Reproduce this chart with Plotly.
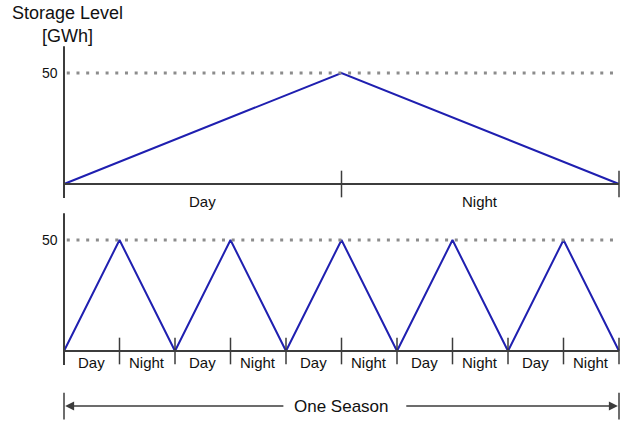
import plotly.graph_objects as go

# ---- data ----
top_x = [0, 5, 10]
top_y = [0, 50, 0]
bottom_x = [0, 1, 2, 3, 4, 5, 6, 7, 8, 9, 10]
bottom_y = [0, 50, 0, 50, 0, 50, 0, 50, 0, 50, 0]
top_labels = ["Day", "Night"]
top_bounds = [0, 5, 10]
bottom_labels = ["Day", "Night"] * 5
bottom_bounds = list(range(11))
level = 50
y_title = "Storage Level<br>[GWh]"
span_label = "One Season"

BLUE = "#1f1fb0"
AXC = "#3c3c3c"
DOT = "#8c8c8c"
FONT = "Liberation Sans, Arial, sans-serif"

fig = go.Figure()

# blue storage curves
fig.add_trace(go.Scatter(x=top_x, y=top_y, mode="lines", xaxis="x", yaxis="y",
                         line=dict(color=BLUE, width=2), hoverinfo="skip"))
fig.add_trace(go.Scatter(x=bottom_x, y=bottom_y, mode="lines", xaxis="x", yaxis="y2",
                         line=dict(color=BLUE, width=2), hoverinfo="skip"))

# dotted 50 lines
for ya in ["y", "y2"]:
    fig.add_trace(go.Scatter(x=[0.05, top_bounds[-1]], y=[level, level], mode="lines",
                             xaxis="x", yaxis=ya, hoverinfo="skip",
                             line=dict(color=DOT, width=3, dash="3px,6.7px")))

shapes = []
annotations = []

def axes_for(yref, bounds, labels, label_y, fs):
    shapes.append(dict(type="line", xref="x", yref=yref, x0=0, x1=0, y0=-6.3, y1=62,
                       line=dict(color=AXC, width=2)))
    shapes.append(dict(type="line", xref="x", yref=yref, x0=0, x1=bounds[-1], y0=0, y1=0,
                       line=dict(color=AXC, width=2)))
    for b in bounds[1:]:
        shapes.append(dict(type="line", xref="x", yref=yref, x0=b, x1=b, y0=-6, y1=6,
                           line=dict(color=AXC, width=1.5)))
    for i, lab in enumerate(labels):
        annotations.append(dict(x=(bounds[i] + bounds[i + 1]) / 2, y=label_y, xref="x", yref=yref,
                                text=lab, showarrow=False, font=dict(size=fs, color="#111", family=FONT)))
    annotations.append(dict(x=-0.08, y=level, xref="x", yref=yref, text=str(level), showarrow=False,
                            xanchor="right", yanchor="middle",
                            font=dict(size=14, color="#111", family=FONT)))

axes_for("y", top_bounds, top_labels, -8.0, 15)
axes_for("y2", bottom_bounds, bottom_labels, -5.0, 15)

# season arrow (in y2 units)
ya = -24.8
shapes.append(dict(type="line", xref="x", yref="y2", x0=0, x1=0, y0=ya - 6, y1=ya + 6,
                   line=dict(color=AXC, width=1.5)))
shapes.append(dict(type="line", xref="x", yref="y2", x0=10, x1=10, y0=ya - 6, y1=ya + 6,
                   line=dict(color=AXC, width=1.5)))
annotations.append(dict(x=0.02, y=ya, ax=3.98, ay=ya, xref="x", yref="y2", axref="x", ayref="y2",
                        text="", showarrow=True, arrowhead=2, arrowsize=1.2, arrowwidth=1.5,
                        arrowcolor=AXC))
annotations.append(dict(x=9.98, y=ya, ax=6.14, ay=ya, xref="x", yref="y2", axref="x", ayref="y2",
                        text="", showarrow=True, arrowhead=2, arrowsize=1.2, arrowwidth=1.5,
                        arrowcolor=AXC))
annotations.append(dict(x=5, y=ya, xref="x", yref="y2", text=span_label, showarrow=False,
                        font=dict(size=17, color="#111", family=FONT)))

# y title
annotations.append(dict(x=0.07, y=1 - 24 / 426, xref="x", yref="paper", text=y_title, showarrow=False,
                        xanchor="center", yanchor="middle",
                        font=dict(size=18, color="#111", family=FONT), align="center"))

fig.update_layout(
    width=633, height=426,
    margin=dict(l=0, r=0, t=0, b=0),
    paper_bgcolor="white", plot_bgcolor="white",
    showlegend=False,
    xaxis=dict(range=[-1.1532, 10.2523], visible=False, fixedrange=True),
    yaxis=dict(range=[-109.01, 82.88], visible=False, fixedrange=True),
    yaxis2=dict(range=[-33.78, 158.11], visible=False, overlaying="y", fixedrange=True),
    shapes=shapes,
    annotations=annotations,
)

fig.write_html("out.html", config={"displayModeBar": False},
               post_script="document.body.style.margin='0px';document.body.style.overflow='hidden';")
